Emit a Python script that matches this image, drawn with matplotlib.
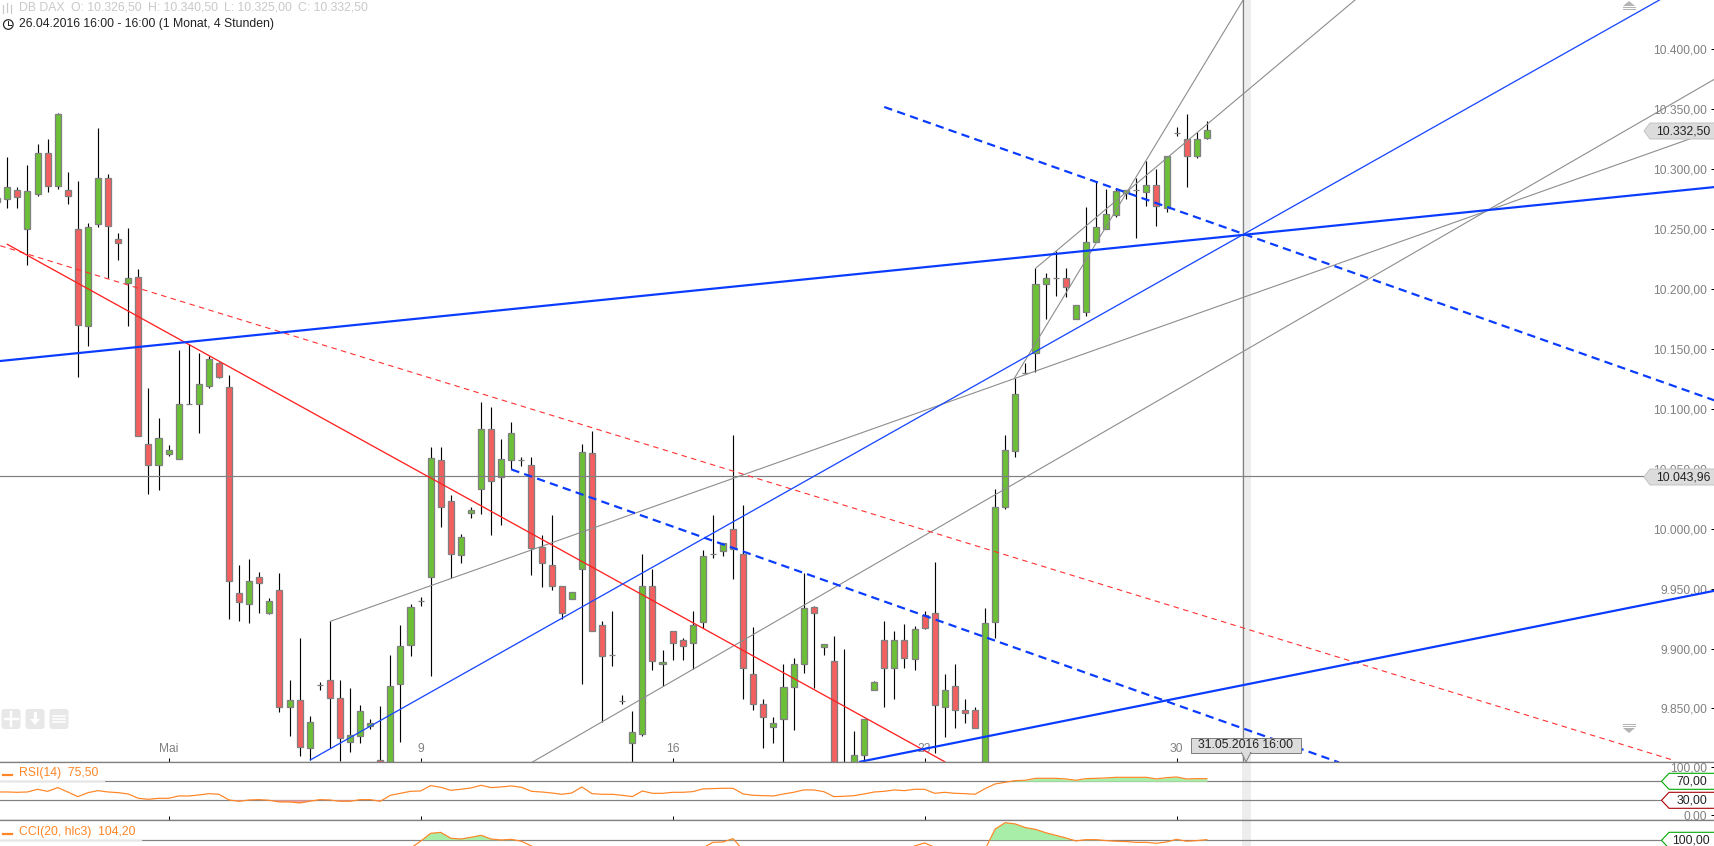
"""DAX 4h candlestick chart with trend lines, RSI and CCI panels."""
import numpy as np
import matplotlib
matplotlib.use("Agg")
import matplotlib.pyplot as plt
from matplotlib.patches import Circle, FancyBboxPatch, Polygon, Rectangle

plt.rcParams["font.family"] = ["Liberation Sans", "DejaVu Sans"]

nan = float("nan")

# candles, the first one sits half outside the left edge
opens = [10273,
         10275, 10282.5, 10250.5, 10279.5, 10314, 10286, 10282.5, 10250, 10169.5, 10254.5,
         10292.5, 10241.5, 10205, 10210, 10070.5, 10053.5, 10062.5, 10058.5, 10104.5, 10104.5,
         10119.5, 10138, 10118, 9946, 9937, 9959.5, 9930, 9948.5, 9851, 9857,
         9817, 9869.5, 9874, 9859, 9822, 9827, 9835.5, 9807, 9790, 9870.5,
         9903, 9939.5, 9960, 10057, 10023.5, 9978, 10013.5, 10033, 10083, 10043,
         10057, 10057, 10053, 9984.5, 9969.5, 9952.5, 9941, 9966, 10063, 9919.5,
         9894.5, 9856, 9821, 9829, 9952.5, 9887, 9914.5, 9907, 9905, 9922,
         9979, 9981.5, 9999.5, 9978.5, 9878.5, 9853.5, 9834.5, 9841, 9867.5, 9887,
         9934.5, 9901, 9890, 9803, 9790, 9811.5, 9865, 9907, 9884, 9907.5,
         9891, 9928, 9929.5, 9851, 9869, 9848.5, 9848.5, 9790, 9922, 10018.5,
         10064.5, 10130, 10146.5, 10204.5, 10209, 10209, 10175, 10180.5, 10239.5, 10250.5,
         10262, 10280, 10282.5, 10281, 10287, 10268, 10330, 10325.5, 10311.5, 10326.5]
closes = [10276,
          10285, 10277, 10281.5, 10314, 10286, 10346, 10278, 10170, 10251.5, 10293,
          10253, 10238.5, 10209, 10077, 10053.5, 10075.5, 10065.5, 10104.5, 10104.5, 10120.5,
          10141.5, 10127, 9956, 9939, 9956, 9955, 9940, 9851, 9857, 9818,
          9839, 9869.5, 9858.5, 9825.5, 9827.5, 9847.5, 9838, 9795, 9869, 9902.5,
          9935, 9939.5, 10059, 10018, 9978.5, 9993.5, 10016, 10083, 10040, 10058,
          10079.5, 10057, 9983.5, 9971, 9952.5, 9929.5, 9947.5, 10064, 9914.5, 9894,
          9894.5, 9856, 9830, 9952, 9890, 9889, 9905, 9902, 9919.5, 9977,
          9979, 9988, 9983, 9884, 9854, 9843, 9837.5, 9867.5, 9887.5, 9933.5,
          9930, 9904, 9790, 9790, 9811, 9841, 9872, 9884, 9907, 9892,
          9916, 9917.5, 9852.5, 9865, 9849, 9846, 9833.5, 9921, 10018, 10065.5,
          10112.5, 10130, 10204, 10209, 10209, 10202, 10186.5, 10239, 10251.5, 10263,
          10282, 10282.5, 10282.5, 10286.5, 10269, 10311, 10330, 10311, 10325.5, 10332.5]
highs = [10276,
         10310.5, 10285, 10303.5, 10321, 10325, 10347, 10298, 10290, 10255, 10334.5,
         10296, 10247, 10251, 10217, 10117.5, 10092.5, 10070, 10149, 10154, 10146.5,
         10144, 10139.5, 10128, 9969.5, 9975, 9963.5, 9942.5, 9963, 9874, 9909,
         9844, 9872, 9923, 9874, 9867, 9853, 9841, 9852, 9894.5, 9919.5,
         9937, 9943, 10068, 10068, 10028.5, 9996, 10018, 10106, 10102, 10074.5,
         10089, 10060, 10059.5, 9994.5, 10011.5, 9952.5, 9947.5, 10070.5, 10081.5, 9923,
         9931, 9861, 9848, 9979, 9966, 9899, 9914.5, 9909, 9931, 9982,
         10011.5, 9988, 10078, 10020, 9918, 9858, 9842.5, 9887, 9892, 9963,
         9935.5, 9904, 9910.5, 9900, 9831, 9841, 9873, 9923, 9914.5, 9920.5,
         9919, 9931, 9972, 9879, 9887, 9857.5, 9851, 9933.5, 10033.5, 10078,
         10126, 10138.5, 10217.5, 10213.5, 10232, 10217.5, 10186.5, 10268.5, 10289, 10283.5,
         10284, 10283, 10293, 10307, 10300, 10311, 10335, 10346, 10331, 10340.5]
lows = [10273,
        10268, 10268, 10220, 10278, 10281, 10283.5, 10271, 10127, 10152.5, 10252,
        10209, 10224, 10169, 10077, 10029, 10032.5, 10060.5, 10058.5, 10104.5, 10080,
        10117.5, 10126, 9924.5, 9923, 9921.5, 9930, 9929, 9847, 9827, 9810,
        9807, 9865, 9817, 9806, 9814, 9821, 9833, 9790, 9785, 9822,
        9893.5, 9935.5, 9877, 10001.5, 9959, 9971, 10009, 10012, 9995, 10003,
        10049.5, 10052.5, 9961, 9951, 9949, 9924.5, 9941, 9870, 9914.5, 9838.5,
        9885.5, 9853.5, 9790, 9827, 9882, 9869, 9890.5, 9890.5, 9883, 9917,
        9975.5, 9977, 9958, 9858, 9849, 9817, 9821, 9790, 9832, 9880,
        9867, 9894.5, 9785, 9785, 9785, 9790, 9865, 9851.5, 9858, 9884,
        9882, 9916, 9812.5, 9826, 9834, 9838, 9833.5, 9785, 9909, 10016.5,
        10060, 10129.5, 10131, 10175, 10194, 10193, 10175, 10177.5, 10239.5, 10250.5,
        10260.5, 10275.5, 10243, 10269.5, 10253, 10264, 10328, 10285.5, 10309.5, 10325]

rsi = [47.5, 47.5, 46.8, 47.5, 53.2, 48.9, 56.7, 47.5, 37.7, 46.1, 50.3,
       47.5, 46.1, 43.3, 34.2, 32.1, 34.2, 34.2, 39.1, 39.1, 41.2,
       44, 42.6, 30.7, 27.9, 30.7, 31.4, 30, 26.5, 26.5, 24.4,
       27.9, 31.4, 30.7, 27.9, 27.9, 31.4, 31.4, 27.9, 40.5, 44.7,
       48.9, 49.6, 60.9, 57.4, 51, 53.2, 56, 61.6, 56.7, 58.1,
       60.2, 57.4, 48.9, 47.5, 45.4, 42.6, 45.4, 58.1, 44, 42.6,
       42.6, 40.5, 37.7, 49.6, 44.7, 44.7, 46.8, 46.8, 48.2, 53.9,
       54.6, 55.3, 55.3, 43.3, 40.5, 39.8, 39.1, 43.3, 46.8, 51.8,
       51.8, 48.2, 37.7, 38.4, 39.8, 43.3, 47.5, 48.9, 51.8, 50.3,
       53.2, 53.2, 44.7, 46.8, 44.7, 44, 42.6, 54.6, 64.4, 67.9,
       71.4, 72.1, 76.3, 76.3, 76.3, 74.9, 72.1, 75.6, 76.3, 77,
       78.4, 78.4, 78.4, 78.4, 74.9, 77.7, 79.1, 74.9, 75.6, 75.5]

# the CCI is only visible above the lower picture edge, the rest stays empty
cci = ([nan] * 41
       + [50, 94, 144, 150, 113, 108, 119, 131.5, 108, 102, 106, 94, 64, 30]
       + [nan] * 14
       + [30, 52, 87, 89.5, 110.5, 37]
       + [nan] * 15
       + [40, 64, 83, 56, 30]
       + [nan] * 3
       + [43, 171, 211, 203, 180, 169, 148, 131.5, 115, 96, 104, 104, 98, 94, 92, 87,
          87, 81, 89.5, 106, 94, 98, 104.2])

price_ticks = [10400, 10350, 10300, 10250, 10200, 10150, 10100, 10050, 10000,
               9950, 9900, 9850]
date_ticks = [16, 41, 66, 91, 116]
date_labels = ["Mai", "9", "16", "23", "30"]
last_price = 10332.50
hline_price = 10043.96
marker_index = 122.55

# trend lines as (candle index pair, price pair)
thick_blue = [([-0.7, 169.4], [10140, 10285.2]),
              ([84.6, 169.4], [9805.5, 9948.3])]
dashed_blue = [([87, 169.4], [10352, 10107]),
               ([50, 132.1], [10049.5, 9805])]
thin_blue = ([30.06, 163.9], [9807, 10441.3])
red_solid = ([0, 93], [10237.4, 9805.5])
red_dashed = ([-0.7, 165.2], [10236.2, 9807])
grey_lines = [([32.04, 169.4], [9922.7, 10332.8]),
              ([52.1, 169.4], [9805.3, 10375.4]),
              ([99.9, 122.6], [10125.5, 10441.3]),
              ([102, 133.7], [10217.3, 10441.3])]

GREEN = "#6cc036"
RED = "#f45f5f"
EDGE = "#808080"
LINE_GREY = "#8c8c8c"
AXIS_GREY = "#808080"
ORANGE = "#ff8526"
BLUE = "#0a3cff"
BAND = "#ededed"
TICK_TEXT = "#808080"
PX = 0.72  # one pixel in points at dpi 100

WIDTH, HEIGHT = 1715, 846
X_LIM = (-0.724, 169.41)


def de_number(value):
    return f"{value:,.2f}".replace(",", "#").replace(".", ",").replace("#", ".")


def panel(top, bottom):
    ax = fig.add_axes([0, 1 - bottom / HEIGHT, 1, (bottom - top) / HEIGHT])
    ax.set_xlim(*X_LIM)
    ax.set_axisbelow(True)
    for side in ("left", "right"):
        ax.spines[side].set_visible(False)
    for side in ("top", "bottom"):
        ax.spines[side].set_color(AXIS_GREY)
        ax.spines[side].set_linewidth(1.3 * PX)
    ax.axvspan(122.5, 123.4, color=BAND, lw=0, zorder=0)
    ax.yaxis.tick_right()
    ax.set_xticks(date_ticks)
    ax.tick_params(axis="x", direction="in", length=4 * PX, width=PX, color="black",
                   labelbottom=False)
    ax.tick_params(axis="y", direction="in", length=4 * PX, width=PX, color="black",
                   labelsize=12 * PX, labelcolor=TICK_TEXT, pad=-8 * PX)
    return ax


def set_price_ticks(ax, values):
    ax.set_yticks(values)
    ax.set_yticklabels([de_number(v) for v in values], ha="right")


fig = plt.figure(figsize=(WIDTH / 100, HEIGHT / 100), dpi=100, facecolor="white")

# price panel
ax = panel(0, 762)
ax.set_ylim(9805.3, 10441.3)
ax.spines["top"].set_visible(False)
set_price_ticks(ax, price_ticks)
ax.set_xticklabels(date_labels)
ax.tick_params(axis="x", labelbottom=True, labelsize=12 * PX, labelcolor=TICK_TEXT,
               pad=-19 * PX)

x = np.arange(-1, 120)
o = np.array(opens)
c = np.array(closes)
colors = [GREEN if up else RED for up in c >= o]
ax.vlines(x, lows, highs, color="black", lw=1.15 * PX, zorder=1.5)
ax.bar(x, np.abs(c - o), width=0.6, bottom=np.minimum(o, c), color=colors,
       edgecolor=EDGE, linewidth=1.3 * PX, zorder=1.6)

ax.axhline(hline_price, color=AXIS_GREY, lw=1.2 * PX, zorder=1.8)
ax.axvline(marker_index, color=AXIS_GREY, lw=1.2 * PX, zorder=1.8)

for xs, ys in grey_lines:
    ax.plot(xs, ys, color=LINE_GREY, lw=1.1 * PX, zorder=2)
ax.plot(*red_dashed, color="#ff3030", lw=1.1 * PX, ls=(0, (5, 4)), zorder=2.1)
ax.plot(*red_solid, color="#ff2020", lw=1.3 * PX, zorder=2.1)
ax.plot(*thin_blue, color="#1a48ff", lw=1.3 * PX, zorder=2.2)
for xs, ys in thick_blue:
    ax.plot(xs, ys, color=BLUE, lw=2.2 * PX, zorder=2.3)
for xs, ys in dashed_blue:
    ax.plot(xs, ys, color=BLUE, lw=2.2 * PX, ls=(0, (3.8, 2.4)), zorder=2.3)

# RSI panel
ax_rsi = panel(762, 820.3)
ax_rsi.set_ylim(-12.1, 110.6)
set_price_ticks(ax_rsi, [100, 0])
ax_rsi.axhline(70, color=AXIS_GREY, lw=1.2 * PX, zorder=1)
ax_rsi.axhline(30, color=AXIS_GREY, lw=1.2 * PX, zorder=1)
rsi_values = np.array(rsi)
ax_rsi.fill_between(x, rsi_values, 70, where=rsi_values >= 70, interpolate=True,
                    color="#a8eda8", lw=0, zorder=1.5)
ax_rsi.fill_between(x, rsi_values, 30, where=rsi_values <= 30, interpolate=True,
                    color="#f0a0a0", lw=0, zorder=1.5)
ax_rsi.plot(x, rsi_values, color=ORANGE, lw=1.2 * PX, zorder=2)

# CCI panel
ax_cci = panel(820.3, 846)
ax_cci.set_ylim(64, 226)
ax_cci.spines["bottom"].set_visible(False)
ax_cci.set_yticks([])
ax_cci.tick_params(axis="x", length=0)
ax_cci.axhline(100, color=AXIS_GREY, lw=1.2 * PX, zorder=1)
cci_values = np.array(cci)
ax_cci.fill_between(x, cci_values, 100, where=cci_values >= 100, interpolate=True,
                    color="#a8eda8", lw=0, zorder=1.5)
ax_cci.plot(x, cci_values, color=ORANGE, lw=1.2 * PX, zorder=2)

# overlay in picture pixels for labels, badges and the little tool icons
top = fig.add_axes([0, 0, 1, 1])
top.set_xlim(0, WIDTH)
top.set_ylim(HEIGHT, 0)
top.axis("off")
top.patch.set_alpha(0)

header = "#c8c8c8"
top.text(19, 8, "DB DAX", color=header, fontsize=12.2 * PX, va="center")
top.text(71, 8, "O: 10.326,50", color=header, fontsize=12.2 * PX, va="center")
top.text(148, 8, "H: 10.340,50", color=header, fontsize=12.2 * PX, va="center")
top.text(224, 8, "L: 10.325,00", color=header, fontsize=12.2 * PX, va="center")
top.text(298, 8, "C: 10.332,50", color=header, fontsize=12.2 * PX, va="center")
top.text(19, 24, "26.04.2016 16:00 - 16:00 (1 Monat, 4 Stunden)", color="#222222",
         fontsize=12.2 * PX, va="center")

# header glyphs
for gx, y0, y1 in [(3, 5, 13), (7, 3, 12), (11, 5, 13)]:
    top.plot([gx, gx], [y0, y1], color=header, lw=1.2 * PX)
top.add_patch(Circle((8.3, 24.5), 4.8, fill=False, ec="#222222", lw=1.2 * PX))
top.plot([8.3, 8.3, 11], [21.5, 25, 25], color="#222222", lw=1 * PX)

# indicator captions
for y, xend, caption, ly in [(773, 104, "RSI(14)  75,50", 781.3),
                             (832, 141, "CCI(20, hlc3)  104,20", 840.3)]:
    top.plot([0, xend], [ly, ly], color="#e6e6e6", lw=1.4 * PX)
    top.plot([3.5, 12], [y + 2, y + 2], color=ORANGE, lw=2.2 * PX)
    top.text(19.5, y, caption, color=ORANGE, fontsize=12.2 * PX, va="center")

# price badges
for price_text, ymid in [(de_number(last_price), 131), (de_number(hline_price), 477)]:
    top.add_patch(Polygon([(1715, ymid - 8), (1650, ymid - 8), (1644, ymid),
                           (1650, ymid + 8), (1715, ymid + 8)],
                          fc="#dcdcdc", ec="#c4c4c4", lw=PX, zorder=5))
    top.text(1710.5, ymid, price_text, color="#222222", fontsize=12.2 * PX, ha="right",
             va="center", zorder=6)

for label, ymid, edge, right in [("70,00", 781.3, "#00aa00", 1707.5),
                                 ("30,00", 800.3, "#aa0000", 1707.5),
                                 ("100,00", 840.3, "#00aa00", 1710)]:
    top.add_patch(Polygon([(1716, ymid - 8), (1669, ymid - 8), (1661.5, ymid),
                           (1669, ymid + 8), (1716, ymid + 8)],
                          fc="white", ec=edge, lw=1.1 * PX, zorder=5))
    top.text(right, ymid, label, color="#222222", fontsize=12.2 * PX, ha="right",
             va="center", zorder=6)

# date marker
top.add_patch(Rectangle((1191.5, 738), 110, 15, fc="#dcdcdc", ec=AXIS_GREY, lw=PX, zorder=5))
top.add_patch(Polygon([(1241.5, 752.5), (1251, 752.5), (1246, 762)], fc="#dcdcdc",
                      ec=AXIS_GREY, lw=PX, zorder=5))
top.add_patch(Rectangle((1242.2, 751.5), 8.2, 2, fc="#dcdcdc", ec="none", zorder=5.5))
top.text(1246, 745.5, "31.05.2016 16:00", color="#222222", fontsize=12.3 * PX, ha="center",
         va="center", zorder=6)

# scroll arrows
for ytri, pointing_up in [(6, True), (728, False)]:
    if pointing_up:
        tri = [(1623, ytri), (1635, ytri), (1629, ytri - 5)]
        rows = [ytri + 1.5, ytri + 3.5]
    else:
        tri = [(1623, ytri), (1635, ytri), (1629, ytri + 5)]
        rows = [ytri - 3.5, ytri - 1.5]
    top.add_patch(Polygon(tri, fc="#b4b4b4", ec="none"))
    for r in rows:
        top.plot([1623, 1635], [r, r], color="#b4b4b4", lw=PX)

# tool buttons lower left
for left in (1.5, 25.5, 49.5):
    top.add_patch(FancyBboxPatch((left + 2, 711), 15, 16, boxstyle="round,pad=2,rounding_size=3",
                                 fc="#e8e8e8", ec="none"))
top.plot([5, 18], [719, 719], color="white", lw=2.4 * PX)
top.plot([11.5, 11.5], [712, 726], color="white", lw=2.4 * PX)
top.add_patch(Polygon([(30, 719), (40, 719), (35, 725)], fc="white", ec="none"))
top.plot([35, 35], [713, 720], color="white", lw=3 * PX)
for r in (716, 719, 722):
    top.plot([53, 65], [r, r], color="white", lw=1.6 * PX)

fig.savefig("out.png", dpi=100)
